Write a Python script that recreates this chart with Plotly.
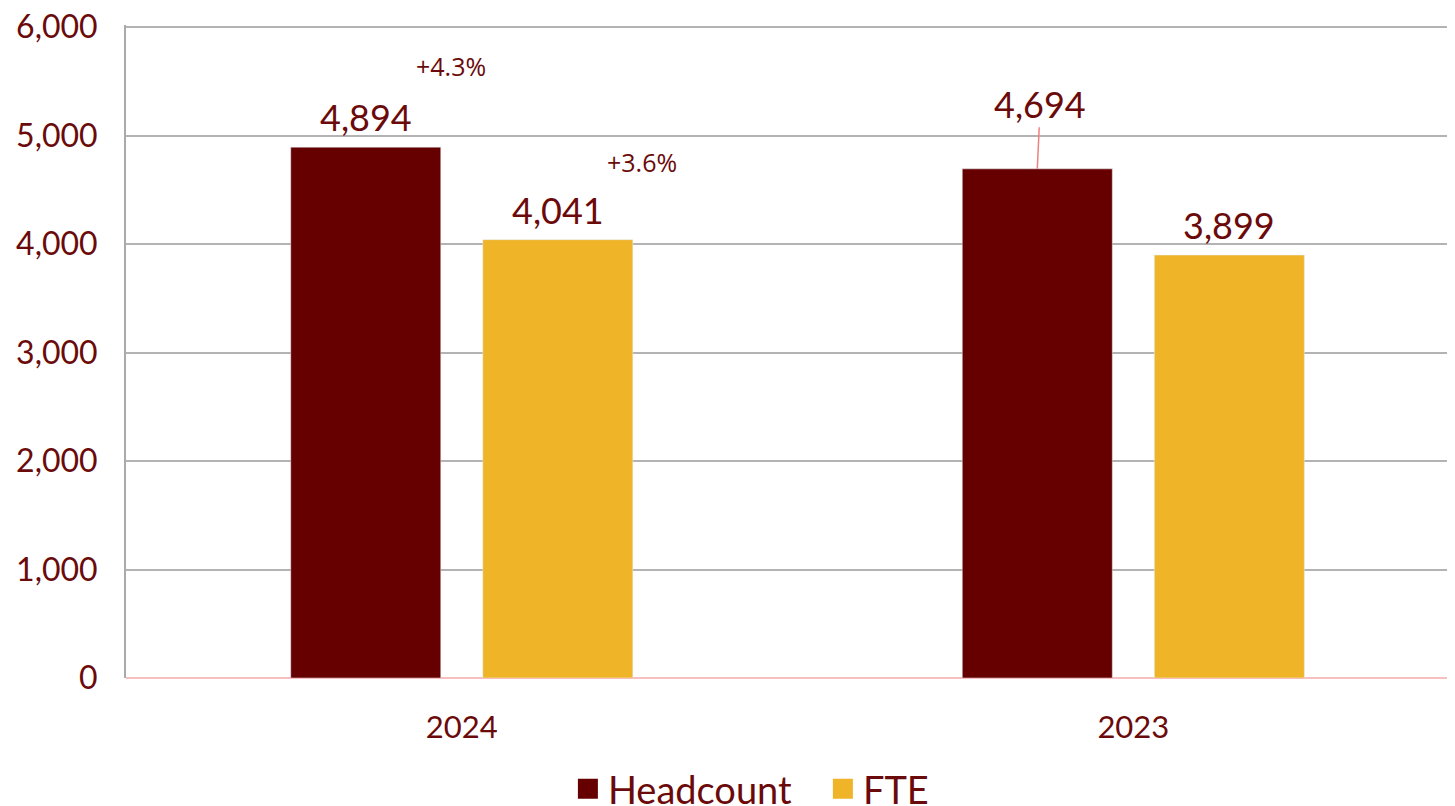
import plotly.graph_objects as go

categories = ["2024", "2023"]
headcount = [4894, 4694]
fte = [4041, 3899]
changes = ["+4.3%", "+3.6%"]

MAROON = "#660000"
GOLD = "#EFB428"
TEXT = "#6B0A0A"
FONT = "Lato, 'Open Sans', sans-serif"

fig = go.Figure()
fig.add_trace(go.Bar(name="Headcount", x=[0, 1], y=headcount, marker_color=MAROON,
                     width=0.2234, offset=-0.2547, showlegend=False))
fig.add_trace(go.Bar(name="FTE", x=[0, 1], y=fte, marker_color=GOLD,
                     width=0.2234, offset=0.0313, showlegend=False))
# legend entries with larger square swatches
for name, col in [("Headcount", MAROON), ("FTE", GOLD)]:
    fig.add_trace(go.Scatter(name=name, x=[None], y=[None], mode="markers",
                             marker=dict(symbol="square", size=16, color=col,
                                         line=dict(color=col, width=4))))

annotations = []
hc_center = -0.2547 + 0.2234 / 2
fte_center = 0.0313 + 0.2234 / 2
for i, v in enumerate(headcount):
    if i == 1:
        annotations.append(dict(x=i + hc_center, y=v, xref="x", yref="y",
                                text=f"{v:,}", showarrow=True, arrowhead=0,
                                arrowcolor="#F08080", arrowwidth=1.5, ax=3, ay=-65,
                                standoff=0, font=dict(family=FONT, size=36, color=TEXT)))
    else:
        annotations.append(dict(x=i + hc_center, y=v, xref="x", yref="y",
                                text=f"{v:,}", showarrow=False, yanchor="middle", yshift=30,
                                font=dict(family=FONT, size=36, color=TEXT)))
for i, v in enumerate(fte):
    annotations.append(dict(x=i + fte_center, y=v, xref="x", yref="y",
                            text=f"{v:,}", showarrow=False, yanchor="middle", yshift=30,
                            font=dict(family=FONT, size=36, color=TEXT)))

change_pos = [(0.2445, 0.937), (0.388, 0.790)]
for t, (px, py) in zip(changes, change_pos):
    annotations.append(dict(x=px, y=py, xref="paper", yref="paper", text=t,
                            showarrow=False, xanchor="center", yanchor="middle",
                            font=dict(family="'Open Sans', sans-serif", size=25, color=TEXT)))

fig.update_layout(
    width=1447, height=798,
    margin=dict(l=118, r=0, t=17, b=128, autoexpand=False),
    paper_bgcolor="white", plot_bgcolor="white",
    barmode="overlay",
    showlegend=True,
    legend=dict(orientation="h", x=0.3325, xanchor="left", y=-0.170, yanchor="middle",
                font=dict(family=FONT, size=38, color=TEXT), itemwidth=30,
                entrywidth=210),
    annotations=annotations,
    font=dict(family=FONT, color=TEXT),
)
fig.update_xaxes(range=[-0.5, 1.479], tickvals=[0, 1], ticktext=categories,
                 showgrid=False, showline=False, ticks="", zeroline=False,
                 tickfont=dict(family=FONT, size=31, color=TEXT), ticklabelstandoff=28)
fig.update_yaxes(range=[0, 6020], tickvals=[0, 1000, 2000, 3000, 4000, 5000, 6000],
                 tickformat=",", ticklabeloverflow="allow",
                 showgrid=True, gridcolor="#B3B3B3", gridwidth=2,
                 showline=True, linecolor="#AAAAAA", linewidth=2,
                 zeroline=True, zerolinecolor="#F7BFBF", zerolinewidth=2,
                 ticks="", tickfont=dict(family=FONT, size=32, color=TEXT),
                 ticklabelstandoff=20)

fig.write_html("out.html")
